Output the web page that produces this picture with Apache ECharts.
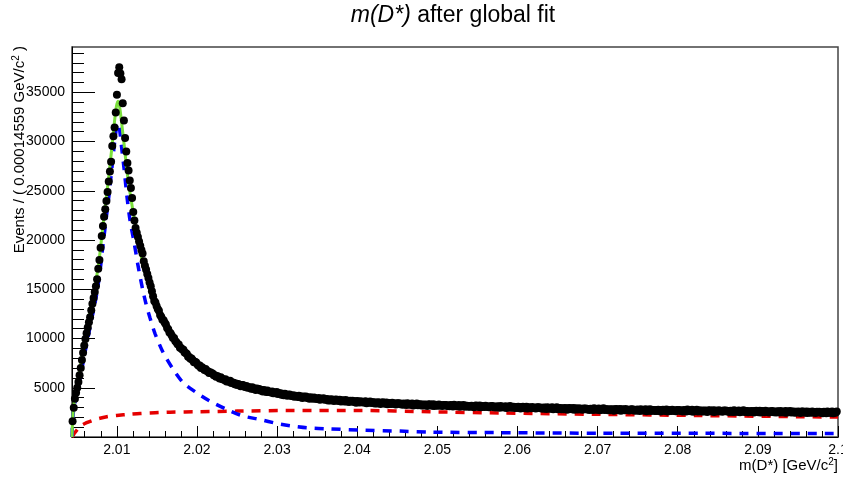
<!DOCTYPE html>
<html><head><meta charset="utf-8">
<script src="https://cdn.jsdelivr.net/npm/echarts@6/dist/echarts.min.js"></script>
<style>html,body{margin:0;padding:0;background:#fff}#c{width:843px;height:482px}</style>
</head><body><div id="c"></div>
<script>
// ---- data ----
const binWidth = 0.00014559;   // GeV/c^2 per bin
const xLow = 2.00441;          // lower edge of the histogram
const xHigh = 2.1;
const yHigh = 39600;

// events per bin (656 bins)
const counts = [
1610,2970,3890,4490,5010,5590,6260,7010,7820,8560,
9280,9960,10540,11120,11640,12170,12870,13540,14120,14720,
15310,16010,17090,17980,19210,20410,21420,22370,23130,23970,
24880,25950,26960,27960,29550,30550,31420,32950,34740,36970,
37550,36900,36330,33900,32130,30350,28990,27810,27060,26050,
25280,24270,22850,21990,21220,20750,20310,19850,19430,19000,
18620,17840,17400,17000,16550,16150,15700,15300,14800,14290,
13810,13660,13310,12990,12810,12400,12220,11910,11860,11600,
11420,11070,10930,10600,10540,10310,10040,10050,9760,9610,
9410,9380,9060,9040,8880,8850,8580,8520,8440,8160,
8130,7940,7960,7800,7590,7630,7560,7370,7230,7260,
7010,7070,6960,6810,6900,6700,6670,6510,6570,6480,
6450,6280,6280,6120,6200,6100,5950,6070,5890,5860,
5780,5860,5630,5720,5620,5700,5480,5530,5510,5350,
5420,5290,5380,5300,5150,5270,5270,5140,5080,5170,
4990,5060,5020,4900,5050,4880,4930,4780,4920,4850,
4880,4720,4780,4630,4770,4680,4580,4710,4580,4560,
4530,4610,4430,4530,4450,4560,4360,4440,4430,4290,
4380,4240,4380,4290,4180,4290,4320,4190,4160,4250,
4090,4180,4160,4050,4200,4040,4100,3970,4110,4050,
4100,3950,4020,3890,4040,3960,3880,4020,3900,3890,
3870,3960,3790,3880,3850,3930,3770,3830,3860,3700,
3820,3700,3830,3760,3650,3770,3820,3690,3670,3770,
3610,3720,3690,3600,3760,3610,3670,3550,3690,3640,
3690,3550,3620,3490,3650,3580,3500,3640,3530,3540,
3500,3620,3430,3560,3500,3610,3440,3520,3530,3410,
3500,3410,3520,3470,3350,3490,3520,3420,3370,3500,
3320,3460,3410,3350,3480,3370,3400,3310,3430,3410,
3430,3320,3370,3270,3400,3360,3260,3430,3290,3320,
3270,3400,3210,3340,3280,3400,3220,3310,3320,3200,
3290,3200,3310,3280,3150,3300,3320,3240,3180,3320,
3140,3280,3230,3180,3300,3200,3230,3140,3260,3250,
3260,3160,3210,3110,3240,3210,3100,3280,3140,3170,
3120,3260,3060,3200,3140,3260,3080,3180,3180,3070,
3160,3070,3180,3150,3010,3170,3190,3100,3050,3190,
3010,3150,3100,3050,3170,3070,3100,3010,3130,3120,
3140,3030,3080,2990,3110,3080,2980,3150,3010,3050,
3000,3130,2940,3080,3010,3140,2960,3050,3060,2950,
3040,2950,3060,3030,2890,3050,3070,2980,2930,3070,
2890,3030,2980,2930,3050,2950,2980,2890,3010,3000,
3010,2910,2960,2860,2990,2960,2850,3030,2890,2920,
2870,3010,2820,2950,2890,3020,2830,2930,2940,2820,
2910,2830,2940,2900,2770,2930,2940,2860,2810,2940,
2760,2910,2860,2800,2930,2830,2860,2770,2890,2880,
2900,2790,2840,2750,2880,2840,2740,2920,2780,2810,
2760,2900,2710,2840,2780,2910,2730,2820,2830,2720,
2810,2720,2830,2800,2670,2820,2840,2760,2710,2840,
2670,2810,2760,2710,2840,2730,2760,2680,2800,2780,
2810,2700,2750,2660,2790,2750,2650,2830,2690,2720,
2680,2810,2620,2760,2700,2820,2640,2740,2750,2630,
2740,2650,2760,2730,2600,2750,2770,2690,2650,2780,
2600,2750,2700,2640,2770,2670,2700,2620,2740,2720,
2750,2640,2690,2600,2730,2690,2600,2780,2630,2670,
2620,2760,2570,2700,2640,2770,2590,2690,2700,2580,
2680,2590,2700,2670,2540,2690,2720,2640,2580,2720,
2540,2690,2640,2580,2720,2610,2640,2560,2680,2660,
2690,2580,2630,2540,2670,2640,2540,2710,2570,2610,
2560,2700,2510,2640,2590,2710,2530,2630,2640,2520,
2620,2530,2640,2610,2480,2640,2660,2570,2520,2660,
2480,2630,2580,2520,2660,2550,2580,2500,2620,2600,
2630,2520,2570,2480,2610,2580,2480,2650,2520,2550,
2500,2640,2450,2590,2530,2650,2480,2570,2580,2470,
2560,2480,2590,2550,2430,2580,2600,2520,2470,2600,
2430,2570,2520,2470,2600,2500,2530,2440,2570,2550,
2570,2470,2520,2420,2560,2520,2420,2600,2460,2490,
2450,2580,2400,2530,2470,2590
];

// total fit (green)
const totalX = [2.00441,2.00446,2.00456,2.00472,2.00497,2.00528,2.00566,2.00603,2.00641,2.00678,2.00716,2.00753,2.0079,2.00828,2.00865,2.00903,2.0094,2.00971,2.00996,2.01015,2.01034,2.01059,2.0109,2.01127,2.01165,2.01215,2.01265,2.01315,2.01365,2.01414,2.01477,2.01539,2.01664,2.01789,2.01914,2.02038,2.02226,2.02413,2.02662,2.02974,2.03286,2.03661,2.04035,2.04534,2.05158,2.05782,2.0703,2.08278,2.1];
const totalY = [0,1200,2600,3700,4900,6300,8200,10000,11600,13300,14800,16500,18700,21500,24000,26700,29500,32000,33600,34100,33600,32000,29800,27000,24800,22300,19900,18000,16400,14900,13300,12200,10300,8900,7900,7050,6150,5500,4900,4380,4000,3700,3500,3300,3120,2990,2800,2680,2520];

// signal component (blue dashed)
const signalX = [2.00441,2.00446,2.00456,2.00472,2.00497,2.00528,2.00566,2.00603,2.00641,2.00678,2.00716,2.00753,2.0079,2.00828,2.00865,2.00903,2.0094,2.00971,2.00996,2.01015,2.01034,2.01059,2.0109,2.01127,2.01165,2.01215,2.01265,2.01323,2.01365,2.01414,2.01477,2.0158,2.01705,2.0183,2.01997,2.02163,2.02372,2.02579,2.02787,2.02995,2.03203,2.0337,2.03661,2.04035,2.04534,2.04909,2.05782,2.0703,2.08278,2.1];
const signalY = [0,1100,2400,3300,4250,5350,7000,8600,10100,11700,13100,14700,16800,19500,22000,24600,27400,29800,31400,31900,31300,29500,27300,24400,22000,19800,17400,14970,13500,12100,10500,8550,6850,5500,4490,3640,2800,2120,1780,1380,1100,940,820,700,600,500,440,380,370,360];

// background component (red dashed)
const bkgX = [2.00441,2.00453,2.00478,2.00516,2.00553,2.00624,2.00703,2.0079,2.0089,2.00999,2.01165,2.0129,2.01477,2.01664,2.02038,2.025,2.03199,2.04035,2.04909,2.05782,2.0703,2.08278,2.1];
const bkgY = [0,150,450,850,1150,1450,1700,1900,2080,2190,2310,2390,2460,2520,2570,2630,2700,2700,2560,2440,2300,2180,2020];

// axis ticks
const xMajorTicks = [2.01,2.02,2.03,2.04,2.05,2.06,2.07,2.08,2.09,2.1];
const xMinorTicks = [2.006,2.008,2.012,2.014,2.016,2.018,2.022,2.024,2.026,2.028,2.032,2.034,2.036,2.038,2.042,2.044,2.046,2.048,2.052,2.054,2.056,2.058,2.062,2.064,2.066,2.068,2.072,2.074,2.076,2.078,2.082,2.084,2.086,2.088,2.092,2.094,2.096,2.098];
const yMajorTicks = [5000,10000,15000,20000,25000,30000,35000];
const yMinorTicks = [1000,2000,3000,4000,6000,7000,8000,9000,11000,12000,13000,14000,16000,17000,18000,19000,21000,22000,23000,24000,26000,27000,28000,29000,31000,32000,33000,34000,36000,37000,38000,39000];

// ---- chart ----
const FONT = '"Liberation Sans", Arial, Helvetica, sans-serif';
const points = counts.map((c, i) => [xLow + (i + 0.5) * binWidth, c]);
const pairs = (xs, ys) => xs.map((x, i) => [x, ys[i]]);

const chart = echarts.init(document.getElementById('c'), null, {renderer: 'canvas'});
chart.setOption({
  animation: false,
  backgroundColor: '#fff',
  grid: {left: 72, top: 47, width: 766, height: 390, show: true, borderColor: '#444', borderWidth: 1.5,
         backgroundColor: 'transparent', outerBoundsMode: 'none', containLabel: false},
  xAxis: [{
    type: 'value', min: xLow, max: xHigh, position: 'bottom',
    axisLine: {show: true, lineStyle: {color: '#000', width: 1}},
    axisTick: {show: true, inside: true, length: 11, customValues: xMajorTicks, lineStyle: {color: '#000', width: 1}},
    axisLabel: {show: true, customValues: xMajorTicks, margin: 6, fontSize: 14, color: '#000', fontFamily: FONT,
                formatter: v => String(+(+v).toFixed(2))},
    splitLine: {show: false}
  }, {
    type: 'value', min: xLow, max: xHigh, position: 'bottom',
    axisLine: {show: false},
    axisTick: {show: true, inside: true, length: 6, customValues: xMinorTicks, lineStyle: {color: '#000', width: 1}},
    axisLabel: {show: false},
    splitLine: {show: false}
  }],
  yAxis: [{
    type: 'value', min: 0, max: yHigh, position: 'left',
    axisLine: {show: true, lineStyle: {color: '#000', width: 1}},
    axisTick: {show: true, inside: true, length: 23, customValues: yMajorTicks, lineStyle: {color: '#000', width: 1}},
    axisLabel: {show: true, customValues: yMajorTicks, margin: 7, fontSize: 14, color: '#000', fontFamily: FONT,
                formatter: v => String(v)},
    splitLine: {show: false}
  }, {
    type: 'value', min: 0, max: yHigh, position: 'left',
    axisLine: {show: false},
    axisTick: {show: true, inside: true, length: 12, customValues: yMinorTicks, lineStyle: {color: '#000', width: 1}},
    axisLabel: {show: false},
    splitLine: {show: false}
  }],
  series: [{
    name: 'background', type: 'line', data: pairs(bkgX, bkgY), smooth: 0.25, showSymbol: false, silent: true,
    lineStyle: {color: '#e50000', width: 3.5, type: [9, 8]}, z: 2
  }, {
    name: 'signal', type: 'line', data: pairs(signalX, signalY), smooth: 0.25, showSymbol: false, silent: true,
    lineStyle: {color: '#0000ff', width: 3.5, type: [9, 8]}, z: 2
  }, {
    name: 'total', type: 'line', data: pairs(totalX, totalY), smooth: 0.25, showSymbol: false, silent: true,
    lineStyle: {color: '#7be03c', width: 3}, z: 3
  }, {
    name: 'data', type: 'scatter', data: points, symbol: 'circle', symbolSize: 8, silent: true,
    itemStyle: {color: '#000', opacity: 1}, z: 4
  }],
  graphic: [{
    type: 'text', x: 453, y: 16, silent: true,
    style: {text: '{i|m(D*)} after global fit', fill: '#000', fontSize: 23, fontFamily: FONT,
            align: 'center', verticalAlign: 'middle',
            rich: {i: {fontStyle: 'italic', fontSize: 23, fontFamily: FONT, fill: '#000'}}}
  }, {
    type: 'text', x: 838, y: 466, silent: true,
    style: {text: 'm(D*) [GeV/c{s|2}]', fill: '#000', fontSize: 15, fontFamily: FONT, lineHeight: 18,
            align: 'right', verticalAlign: 'middle',
            rich: {s: {fontSize: 10, fontFamily: FONT, verticalAlign: 'top', fill: '#000'}}}
  }, {
    type: 'text', x: 20, y: 46, rotation: Math.PI / 2, silent: true,
    style: {text: 'Events / ( 0.00014559 GeV/c{s|2} )', fill: '#000', fontSize: 15, fontFamily: FONT, lineHeight: 18,
            align: 'right', verticalAlign: 'middle',
            rich: {s: {fontSize: 10, fontFamily: FONT, verticalAlign: 'top', fill: '#000'}}}
  }]
});
</script>
</body></html>
